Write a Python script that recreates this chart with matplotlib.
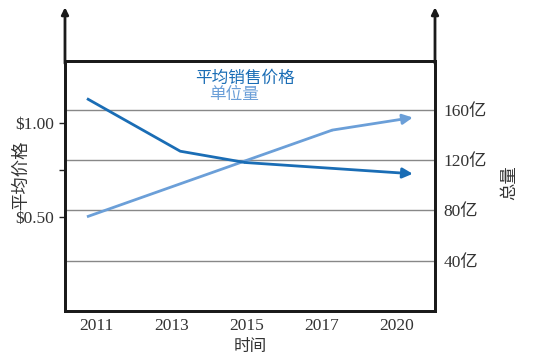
import matplotlib
matplotlib.use('Agg')
import matplotlib.pyplot as plt

# 类目与数据 (x 为类目位置, 0 = 2011 ... 4 = 2020)
years = ['2011', '2013', '2015', '2017', '2020']
price_x = [-0.12, 1.12, 1.98, 4.21]
price = [1.13, 0.85, 0.79, 0.73]          # 平均销售价格 ($)
units_x = [-0.12, 3.14, 4.21]
units = [75, 144, 154]                    # 单位量 (亿)

price_ticks = [0.5, 0.75, 1.0]
price_labels = [r'\$0.50', '', r'\$1.00']
unit_ticks = [40, 80, 120, 160]
unit_labels = ['40亿', '80亿', '120亿', '160亿']

dark = '#1a6db5'
light = '#6b9fd8'
fonts = ['Liberation Serif', 'Noto Sans CJK SC', 'DejaVu Sans']
cjk = ['Noto Sans CJK SC', 'DejaVu Sans']

fig = plt.figure(figsize=(5.34, 3.59), dpi=100)
ax = fig.add_axes([0.1217, 0.1337, 0.6929, 0.6964])
ax2 = ax.twinx()
ax.set_zorder(ax2.get_zorder() + 1)
ax.patch.set_visible(False)

ax.set_xlim(-0.412, 4.505)
ax.set_ylim(0, 1.33)
ax2.set_ylim(0, 199)

# 网格线 (右轴刻度)
ax2.set_yticks(unit_ticks)
ax2.set_yticklabels(unit_labels, family=fonts, fontsize=12.5, color='#333333')
ax2.tick_params(axis='y', length=0, pad=6)
ax2.grid(axis='y', color='#888888', linewidth=1)
ax2.set_axisbelow(True)

# 单位量
ax2.plot(units_x[:-1], units[:-1], color=light, linewidth=2, solid_capstyle='butt')
ax2.annotate('', xy=(units_x[-1], units[-1]), xytext=(units_x[-2], units[-2]),
             arrowprops=dict(arrowstyle='-|>', color=light, lw=2,
                             mutation_scale=15, shrinkA=0, shrinkB=0))

# 平均销售价格
ax.plot(price_x[:-1], price[:-1], color=dark, linewidth=2, solid_capstyle='butt')
ax.annotate('', xy=(price_x[-1], price[-1]), xytext=(price_x[-2], price[-2]),
            arrowprops=dict(arrowstyle='-|>', color=dark, lw=2,
                            mutation_scale=15, shrinkA=0, shrinkB=0))

ax.set_yticks(price_ticks)
ax.set_yticklabels(price_labels, family=fonts, fontsize=12.5, color='#333333')
ax.tick_params(axis='y', length=4, width=1, color='#222222', pad=4)
ax.set_xticks(range(len(years)))
ax.set_xticklabels(years, family=fonts, fontsize=12.5, color='#333333')
ax.tick_params(axis='x', length=0, pad=5)

for a in (ax, ax2):
    for s in a.spines.values():
        s.set_linewidth(2)
        s.set_color('#1a1a1a')

# 轴顶部箭头
for xpos in (0, 1):
    ax.annotate('', xy=(xpos, 1.215), xytext=(xpos, 0.99), xycoords='axes fraction',
                textcoords='axes fraction', annotation_clip=False,
                arrowprops=dict(arrowstyle='-|>', color='#1a1a1a', lw=2,
                                mutation_scale=10, shrinkA=0, shrinkB=0))

ax.set_xlabel('时间', family=cjk, fontsize=12, color='#333333', labelpad=3)
ax.set_ylabel('平均价格', family=cjk, fontsize=12.5, color='#333333')
ax.yaxis.set_label_coords(-0.095, 0.544)
ax2.set_ylabel('总量', family=cjk, fontsize=12.5, color='#333333')
ax2.yaxis.set_label_coords(1.176, 0.512)

ax.text(0.486, 0.932, '平均销售价格', transform=ax.transAxes, ha='center', va='center',
        family=cjk, fontsize=12, color=dark)
ax.text(0.457, 0.864, '单位量', transform=ax.transAxes, ha='center', va='center',
        family=cjk, fontsize=12, color=light)

fig.savefig('out.png', dpi=100)
